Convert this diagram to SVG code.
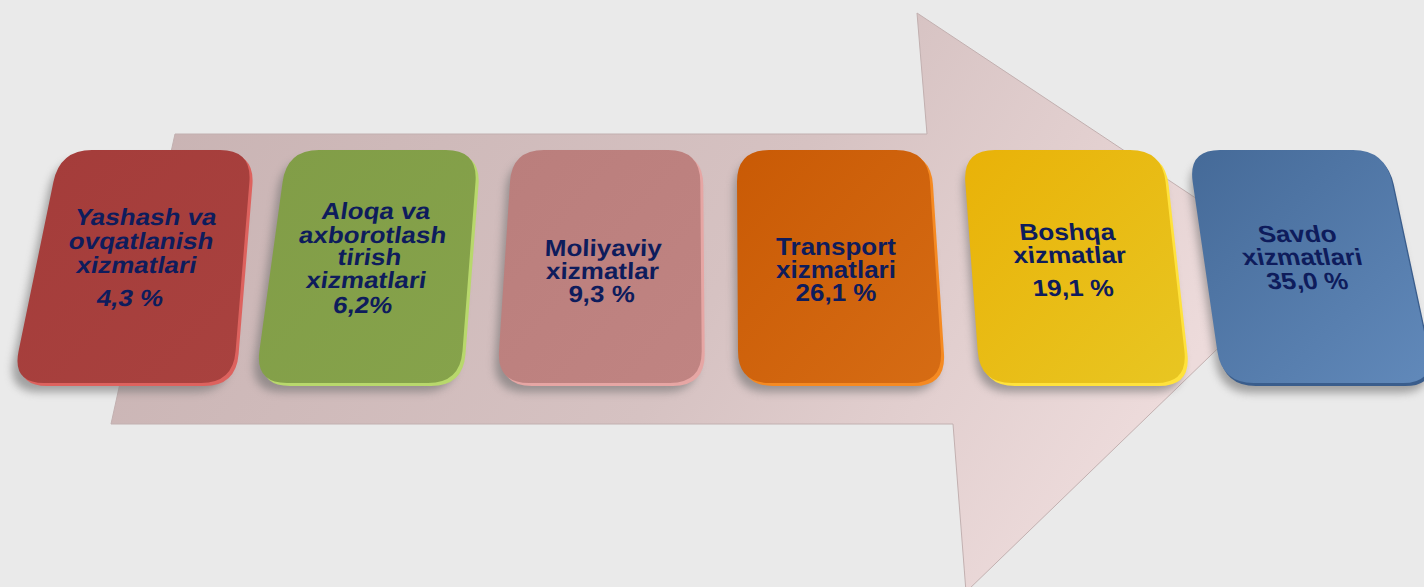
<svg xmlns="http://www.w3.org/2000/svg" width="1424" height="587" viewBox="0 0 1424 587">
  <defs>
    <linearGradient id="arrowGrad" x1="0" y1="0" x2="1" y2="0.3">
      <stop offset="0" stop-color="#c7b1b1"/>
      <stop offset="0.6" stop-color="#d6c2c2"/>
      <stop offset="1" stop-color="#eddbdb"/>
    </linearGradient>
    <filter id="shadow" x="-20%" y="-20%" width="140%" height="150%">
      <feGaussianBlur stdDeviation="4"/>
    </filter>
    <linearGradient id="g1" x1="0" y1="0" x2="1" y2="1">
      <stop offset="0" stop-color="#a43c3a"/><stop offset="1" stop-color="#a9423f"/>
    </linearGradient>
    <linearGradient id="g2" x1="0" y1="0" x2="1" y2="1">
      <stop offset="0" stop-color="#819d47"/><stop offset="1" stop-color="#86a34b"/>
    </linearGradient>
    <linearGradient id="g3" x1="0" y1="0" x2="1" y2="1">
      <stop offset="0" stop-color="#ba7e7c"/><stop offset="1" stop-color="#c08482"/>
    </linearGradient>
    <linearGradient id="g4" x1="0" y1="0" x2="1" y2="1">
      <stop offset="0" stop-color="#c95a05"/><stop offset="1" stop-color="#d66c14"/>
    </linearGradient>
    <linearGradient id="g5" x1="0" y1="0" x2="1" y2="1">
      <stop offset="0" stop-color="#e9b208"/><stop offset="1" stop-color="#e8c622"/>
    </linearGradient>
    <linearGradient id="g6" x1="0" y1="0" x2="1" y2="1">
      <stop offset="0" stop-color="#456a98"/><stop offset="1" stop-color="#6189ba"/>
    </linearGradient>
    <path id="p1" d="M92,150 L220,150 Q252,150 249.4,182 L235.6,351 Q233,383 201,383 L44,383 Q12,383 18.6,351 L53.4,182 Q60,150 92,150 Z"/>
    <path id="p2" d="M319,150 L446,150 Q478,150 475.5,182 L462.5,351 Q460,383 428,383 L287,383 Q255,383 259.4,351 L282.6,182 Q287,150 319,150 Z"/>
    <path id="p3" d="M544,150 L668,150 Q700,150 700.3,182 L701.7,351 Q702,383 670,383 L529,383 Q497,383 499,351 L510,182 Q512,150 544,150 Z"/>
    <path id="p4" d="M769,150 L896,150 Q928,150 930,182 L941,351 Q943,383 911,383 L770,383 Q738,383 738,351 L737,182 Q737,150 769,150 Z"/>
    <path id="p5" d="M995,150 L1130,150 Q1162,150 1165.6,182 L1184.4,351 Q1188,383 1156,383 L1012,383 Q980,383 977.7,351 L965.3,182 Q963,150 995,150 Z"/>
    <path id="p6" d="M1220,150 L1353,150 Q1385,150 1391.9,182 L1428.1,351 Q1435,383 1403,383 L1254,383 Q1222,383 1217.3,351 L1192.7,182 Q1188,150 1220,150 Z"/>
  </defs>
  <style>
    .shadow { fill: #707070; opacity: 0.6; filter: url(#shadow); }
    .lbl { font-family: "Liberation Sans", Arial, sans-serif; font-weight: bold; font-size: 26px; fill: #0e1c5c; text-anchor: middle; }
  </style>
  <rect width="1424" height="587" fill="#eaeaea"/>

  <g id="arrow">
    <path d="M175,134 L927,134 L917,13 L1301,268 L966,592 L953,424 L111,424 Z" fill="url(#arrowGrad)" stroke="#c2b0b0" stroke-width="1" stroke-linejoin="miter"/>
  </g>

  <g id="connectors"></g>

  <g id="node1">
    <use href="#p1" class="shadow" transform="translate(-5,9)"/>
    <use href="#p1" fill="#dd625e" transform="translate(3,3)"/>
    <use href="#p1" fill="url(#g1)"/>
    <g transform="translate(144.5,225) skewX(-11) scale(1,0.9)">
      <text class="lbl" x="0" y="0">Yashash va</text>
      <text class="lbl" x="0" y="26.7">ovqatlanish</text>
      <text class="lbl" x="0" y="53.3">xizmatlari</text>
      <text class="lbl" x="0" y="90">4,3 %</text>
    </g>
  </g>

  <g id="node2">
    <use href="#p2" class="shadow" transform="translate(-5,9)"/>
    <use href="#p2" fill="#b8d86c" transform="translate(3,3)"/>
    <use href="#p2" fill="url(#g2)"/>
    <g transform="translate(375,219) skewX(-8) scale(1,0.9)">
      <text class="lbl" x="0" y="0">Aloqa va</text>
      <text class="lbl" x="0" y="26.7">axborotlash</text>
      <text class="lbl" x="0" y="51.1">tirish</text>
      <text class="lbl" x="0" y="76.7">xizmatlari</text>
      <text class="lbl" x="0" y="104.4">6,2%</text>
    </g>
  </g>

  <g id="node3">
    <use href="#p3" class="shadow" transform="translate(-4,9)"/>
    <use href="#p3" fill="#e6a6a4" transform="translate(3,3)"/>
    <use href="#p3" fill="url(#g3)"/>
    <g transform="translate(603,256) skewX(-2) scale(1,0.9)">
      <text class="lbl" x="0" y="0">Moliyaviy</text>
      <text class="lbl" x="0" y="25.6">xizmatlar</text>
      <text class="lbl" x="0" y="51.1">9,3 %</text>
    </g>
  </g>

  <g id="node4">
    <use href="#p4" class="shadow" transform="translate(-3,9)"/>
    <use href="#p4" fill="#f58a22" transform="translate(3,3)"/>
    <use href="#p4" fill="url(#g4)"/>
    <g transform="translate(836,255) scale(1,0.9)">
      <text class="lbl" x="0" y="0">Transport</text>
      <text class="lbl" x="0" y="25.6">xizmatlari</text>
      <text class="lbl" x="0" y="51.1">26,1 %</text>
    </g>
  </g>

  <g id="node5">
    <use href="#p5" class="shadow" transform="translate(-2,9)"/>
    <use href="#p5" fill="#ffe23c" transform="translate(3,3)"/>
    <use href="#p5" fill="url(#g5)"/>
    <g transform="translate(1068,240) skewX(6) scale(1,0.9)">
      <text class="lbl" x="0" y="0">Boshqa</text>
      <text class="lbl" x="0" y="25.6">xizmatlar</text>
      <text class="lbl" x="0" y="62.2">19,1 %</text>
    </g>
  </g>

  <g id="node6">
    <use href="#p6" class="shadow" transform="translate(-2,10)"/>
    <use href="#p6" fill="#3a5d8c" transform="translate(2,3)"/>
    <use href="#p6" fill="url(#g6)"/>
    <g transform="translate(1299,242) skewX(12) scale(1,0.9)">
      <text class="lbl" x="0" y="0">Savdo</text>
      <text class="lbl" x="0" y="25.6">xizmatlari</text>
      <text class="lbl" x="0" y="52.2">35,0 %</text>
    </g>
  </g>
</svg>
